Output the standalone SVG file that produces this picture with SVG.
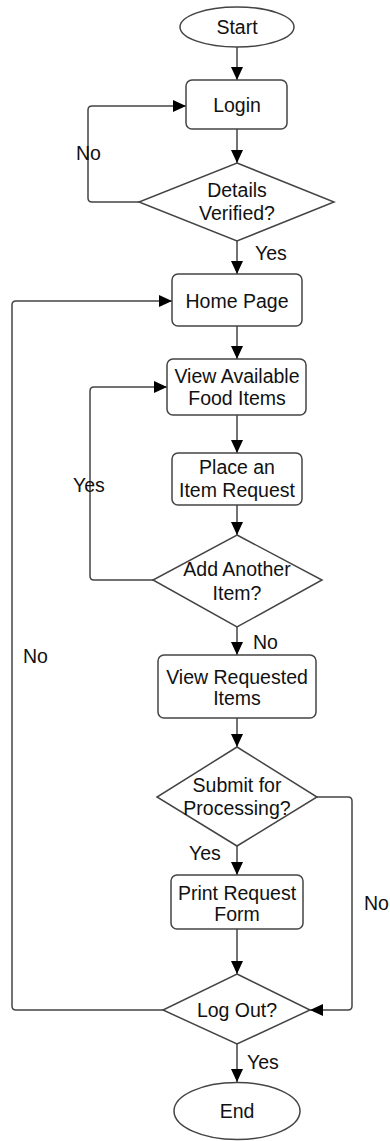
<svg xmlns="http://www.w3.org/2000/svg" width="390" height="1141" viewBox="0 0 390 1141">
<style>
.n{fill:#fff;stroke:#444;stroke-width:1.5}
.c{fill:none;stroke:#444;stroke-width:1.5}
text{font-family:"Liberation Sans",Arial,Helvetica,sans-serif;font-size:19.5px;fill:#111}
.m{text-anchor:middle}
</style>
<defs>
<marker id="ah" markerUnits="userSpaceOnUse" markerWidth="13" markerHeight="12" refX="13" refY="6" orient="auto">
<path d="M0,0 L13,6 L0,12 z" fill="#000"/>
</marker>
</defs>
<rect width="390" height="1141" fill="#fff"/>
<g id="connectors">
<path class="c" d="M237,47 V80" marker-end="url(#ah)"/>
<path class="c" d="M237,129 V163" marker-end="url(#ah)"/>
<path class="c" d="M139,202 H92 Q88,202 88,198 V110 Q88,106 92,106 H186" marker-end="url(#ah)"/>
<path class="c" d="M237,241 V274" marker-end="url(#ah)"/>
<path class="c" d="M237,326 V359" marker-end="url(#ah)"/>
<path class="c" d="M237,415 V453" marker-end="url(#ah)"/>
<path class="c" d="M237,505 V535" marker-end="url(#ah)"/>
<path class="c" d="M153,580 H94 Q90,580 90,576 V391 Q90,387 94,387 H167" marker-end="url(#ah)"/>
<path class="c" d="M237,627 V655" marker-end="url(#ah)"/>
<path class="c" d="M237,718 V747" marker-end="url(#ah)"/>
<path class="c" d="M237,846 V875" marker-end="url(#ah)"/>
<path class="c" d="M317,797 H348 Q352,797 352,801 V1006 Q352,1010 348,1010 H310" marker-end="url(#ah)"/>
<path class="c" d="M237,929 V974" marker-end="url(#ah)"/>
<path class="c" d="M163,1010 H16 Q12,1010 12,1006 V305 Q12,301 16,301 H172" marker-end="url(#ah)"/>
<path class="c" d="M237,1044 V1082" marker-end="url(#ah)"/>
<text x="76" y="160">No</text>
<text x="255" y="260">Yes</text>
<text x="73" y="492">Yes</text>
<text x="253" y="649">No</text>
<text x="23" y="663">No</text>
<text x="189" y="860">Yes</text>
<text x="364" y="910">No</text>
<text x="247" y="1069">Yes</text>
</g>
<g id="start">
<ellipse class="n" cx="237" cy="27" rx="57" ry="20"/>
<text class="m" x="237" y="34">Start</text>
</g>
<g id="login">
<rect class="n" x="186" y="80" width="101" height="49" rx="6"/>
<text class="m" x="237" y="111.5">Login</text>
</g>
<g id="details-verified">
<polygon class="n" points="237,163 334,202 237,241 139,202"/>
<text class="m" x="237" y="197">Details</text>
<text class="m" x="237" y="220">Verified?</text>
</g>
<g id="home-page">
<rect class="n" x="172" y="274" width="130" height="52" rx="6"/>
<text class="m" x="237" y="308">Home Page</text>
</g>
<g id="view-available">
<rect class="n" x="167" y="359" width="139" height="56" rx="6"/>
<text class="m" x="237" y="383">View Available</text>
<text class="m" x="237" y="405">Food Items</text>
</g>
<g id="place-request">
<rect class="n" x="172" y="453" width="130" height="52" rx="6"/>
<text class="m" x="237" y="474">Place an</text>
<text class="m" x="237" y="497">Item Request</text>
</g>
<g id="add-another">
<polygon class="n" points="237,535 322,580 237,627 153,580"/>
<text class="m" x="237" y="576">Add Another</text>
<text class="m" x="237" y="600">Item?</text>
</g>
<g id="view-requested">
<rect class="n" x="158" y="655" width="158" height="63" rx="6"/>
<text class="m" x="237" y="684">View Requested</text>
<text class="m" x="237" y="705">Items</text>
</g>
<g id="submit">
<polygon class="n" points="237,747 317,797 237,846 157,797"/>
<text class="m" x="237" y="792">Submit for</text>
<text class="m" x="237" y="815">Processing?</text>
</g>
<g id="print-form">
<rect class="n" x="171" y="875" width="132" height="54" rx="6"/>
<text class="m" x="237" y="900">Print Request</text>
<text class="m" x="237" y="921">Form</text>
</g>
<g id="log-out">
<polygon class="n" points="237,974 310,1010 237,1044 163,1010"/>
<text class="m" x="237" y="1017">Log Out?</text>
</g>
<g id="end">
<ellipse class="n" cx="237" cy="1111" rx="63" ry="28.5"/>
<text class="m" x="237" y="1118">End</text>
</g>
</svg>
